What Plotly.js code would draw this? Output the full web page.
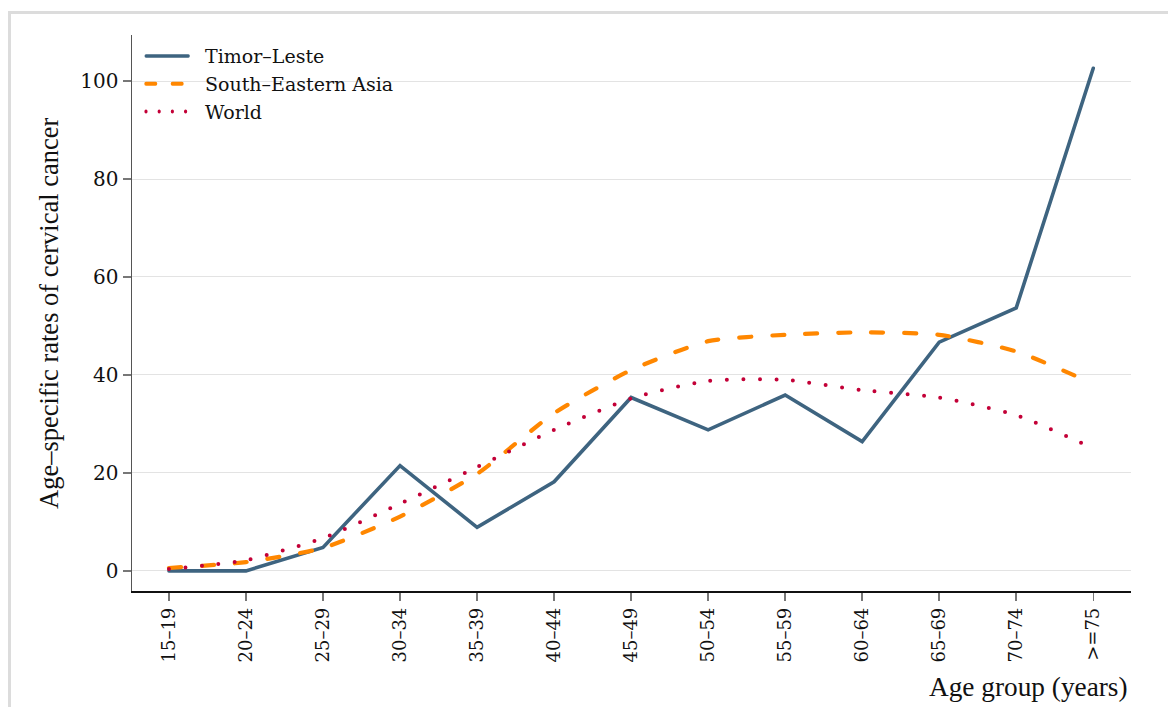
<!DOCTYPE html>
<html>
<head>
<meta charset="utf-8">
<script src="https://cdn.plot.ly/plotly-3.0.1.min.js"></script>
<style>
  html, body { margin: 0; padding: 0; background: #ffffff; overflow: hidden; }
  #frame { position: absolute; left: 8px; top: 11px; width: 1200px; height: 760px; border: 3px solid #dcdcdc; box-sizing: border-box; }
  #chart { position: absolute; left: 0; top: 0; width: 1168px; height: 707px; }
  #chart path.js-line { stroke-linecap: round; }
  #chart .legendlines path { transform: scaleX(0.8); }
</style>
</head>
<body>
<div id="frame"></div>
<div id="chart"></div>
<script>
const ageGroups = ["15\u201319", "20\u201324", "25\u201329", "30\u201334", "35\u201339", "40\u201344", "45\u201349",
                   "50\u201354", "55\u201359", "60\u201364", "65\u201369", "70\u201374", ">=75"];
const timorLeste = [0.0, 0.0, 4.8, 21.5, 8.9, 18.2, 35.4, 28.8, 35.9, 26.4, 46.7, 53.7, 102.6];
const southEasternAsia = [0.6, 1.8, 4.7, 11.1, 19.8, 32.2, 41.0, 46.9, 48.2, 48.7, 48.2, 44.8, 38.2];
const world = [0.4, 2.2, 6.7, 13.7, 21.2, 28.8, 35.2, 38.8, 39.0, 36.9, 35.4, 31.8, 25.0];
const seriesNames = ["Timor\u2013Leste", "South\u2013Eastern Asia", "World"];
const yTickVals = [0, 20, 40, 60, 80, 100];
const xTitle = "Age group (years)";
const yTitle = "Age\u2013specific rates of cervical cancer";

const idx = ageGroups.map((_, i) => i);
const serif = "DejaVu Serif, serif";
const titleSerif = "Liberation Serif, Times New Roman, serif";

const traces = [
  { x: idx, y: timorLeste, name: seriesNames[0], type: "scatter", mode: "lines",
    line: { color: "#3e6480", width: 3.6 } },
  { x: idx, y: southEasternAsia, name: seriesNames[1], type: "scatter", mode: "lines",
    line: { color: "#ff8700", width: 4.2, dash: "12px,21px", shape: "spline", smoothing: 0.6 } },
  { x: idx, y: world, name: seriesNames[2], type: "scatter", mode: "lines",
    line: { color: "#c30037", width: 4, dash: "0px,16.5px", shape: "spline", smoothing: 0.6 } }
];

const layout = {
  width: 1168, height: 707,
  margin: { l: 132, r: 37, t: 35, b: 116 },
  paper_bgcolor: "rgba(0,0,0,0)",
  plot_bgcolor: "#ffffff",
  showlegend: true,
  hovermode: false,
  legend: {
    x: 0.010, y: 0.996, xanchor: "left", yanchor: "top",
    bgcolor: "rgba(255,255,255,0)",
    font: { family: serif, size: 19, color: "#111111" },
    tracegroupgap: 0, itemwidth: 53
  },
  xaxis: {
    range: [-0.48, 12.49],
    tickmode: "array", tickvals: idx, ticktext: ageGroups,
    tickangle: -90,
    ticks: "outside", ticklen: 8, tickwidth: 1.5, tickcolor: "#777777",
    showline: true, linecolor: "#111111", linewidth: 1.5,
    showgrid: false, zeroline: false,
    tickfont: { family: serif, size: 18, color: "#111111" }
  },
  yaxis: {
    range: [-4.1, 109.4],
    tickmode: "array", tickvals: yTickVals,
    ticks: "outside", ticklen: 8, tickwidth: 1.5, tickcolor: "#777777",
    showline: true, linecolor: "#555555", linewidth: 1.5,
    showgrid: true, gridcolor: "#e3e3e3", gridwidth: 1,
    zeroline: false,
    tickfont: { family: serif, size: 20, color: "#111111" }
  },
  annotations: [
    { text: xTitle, xref: "paper", yref: "paper", x: 1, y: 0, xanchor: "right", yanchor: "top",
      yshift: -79, xshift: -1, showarrow: false, font: { family: titleSerif, size: 27.3, color: "#111111" } },
    { text: yTitle, xref: "paper", yref: "paper", x: 0, y: 0.5, xanchor: "center", yanchor: "middle",
      xshift: -83, textangle: -90, showarrow: false, font: { family: titleSerif, size: 26.5, color: "#111111" } }
  ]
};

Plotly.newPlot("chart", traces, layout, { displayModeBar: false, staticPlot: true });
</script>
</body>
</html>
